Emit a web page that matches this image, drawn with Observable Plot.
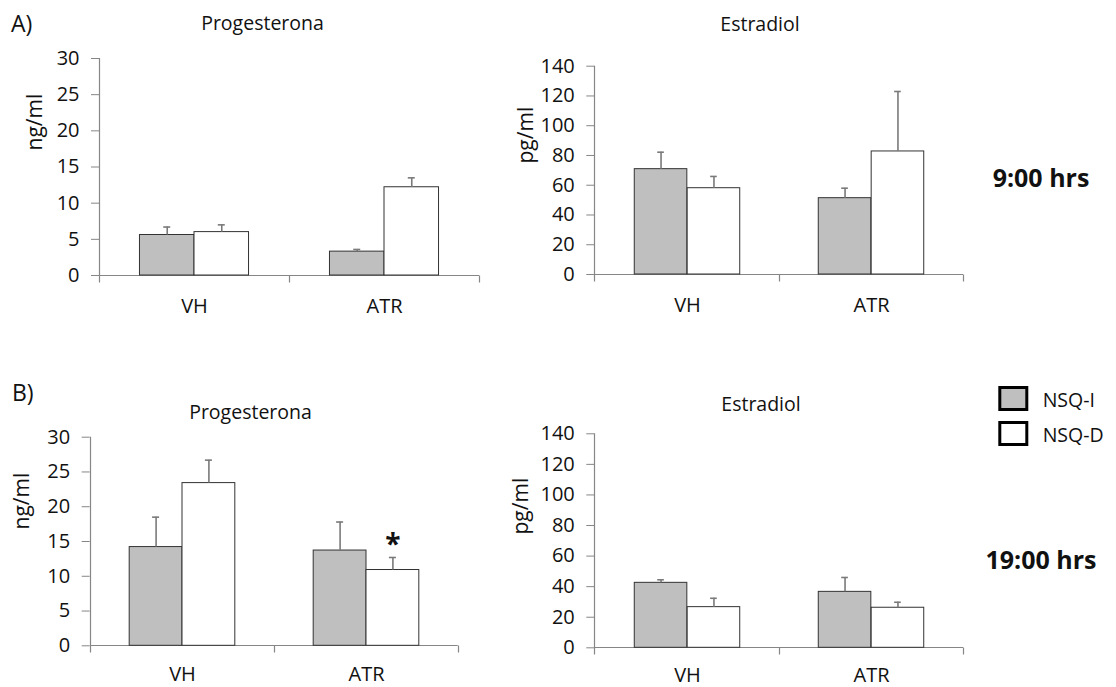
<!DOCTYPE html>
<html>
<head>
<meta charset="utf-8">
<script src="https://cdn.jsdelivr.net/npm/d3@7"></script>
<script src="https://cdn.jsdelivr.net/npm/@observablehq/plot@0.6"></script>
<style>
  body { margin: 0; background: #fff; }
  #fig { position: relative; width: 1116px; height: 687px; overflow: hidden; font-family: "Open Sans", sans-serif; }
  #fig > svg { position: absolute; }
</style>
</head>
<body>
<div id="fig"></div>
<script>
// Treatment groups (x axis) and the two series (legend)
const groups = ["VH", "ATR"];
const series = ["NSQ-I", "NSQ-D"];
const seriesFill = ["#bfbfbf", "#ffffff"];

// Tick values for the two hormone scales
const progTicks = [0, 5, 10, 15, 20, 25, 30];
const estTicks = [0, 20, 40, 60, 80, 100, 120, 140];

// Progesterona at 9:00 (ng/ml), values per group [VH, ATR]
const prog9MeanI = [5.6, 3.3];
const prog9MeanD = [6.0, 12.2];
const prog9ErrI = [1.1, 0.3];
const prog9ErrD = [1.0, 1.3];

// Estradiol at 9:00 (pg/ml)
const est9MeanI = [70.8, 51.3];
const est9MeanD = [58.0, 82.7];
const est9ErrI = [11.4, 6.7];
const est9ErrD = [7.9, 40.3];

// Progesterona at 19:00 (ng/ml)
const prog19MeanI = [14.2, 13.7];
const prog19MeanD = [23.4, 10.9];
const prog19ErrI = [4.3, 4.1];
const prog19ErrD = [3.3, 1.8];

// Estradiol at 19:00 (pg/ml)
const est19MeanI = [42.5, 36.6];
const est19MeanD = [26.6, 26.2];
const est19ErrI = [2.0, 9.4];
const est19ErrD = [5.8, 3.6];

// Significance marks: [group, series, symbol]
const prog19Signif = [["ATR", "NSQ-D", "*"]];

function toRows(meanI, meanD, errI, errD) {
  const rows = [];
  groups.forEach((g, i) => {
    rows.push({group: g, series: series[0], value: meanI[i], err: errI[i]});
    rows.push({group: g, series: series[1], value: meanD[i], err: errD[i]});
  });
  return rows;
}

const fig = document.getElementById("fig");
const axisGray = "#868686";
const textColor = "#111";

function panel({rows, ticks, unit, signif = [], left, top, width, height, margin, labelAt, xPad = 23}) {
  const [mt, mr, mb, ml] = margin;
  const bw = (width - ml - mr) / groups.length;  // band width of one group
  const barW = bw * 0.287;                       // width of one bar
  const cap = 3.5;                               // half width of the error cap
  const tickLen = 7;
  const off = s => s === series[0] ? -barW / 2 : barW / 2;
  const barInset = s => s === series[0]
    ? {insetLeft: bw / 2 - barW, insetRight: bw / 2}
    : {insetLeft: bw / 2, insetRight: bw / 2 - barW};

  // axis lines: vertical y line, baseline and group boundary ticks
  const axisLines = (index, scales, values, dim) => {
    const g = d3.create("svg:g").attr("stroke", axisGray).attr("fill", "none").attr("stroke-width", 1.2);
    const y0 = Math.round(scales.y(0)) + 0.5;
    const x0 = Math.round(dim.marginLeft) + 0.5;
    const x1 = dim.width - dim.marginRight;
    g.append("line").attr("x1", x0).attr("x2", x0).attr("y1", dim.marginTop).attr("y2", y0 + tickLen);
    g.append("line").attr("x1", x0).attr("x2", x1).attr("y1", y0).attr("y2", y0);
    for (let i = 1; i <= groups.length; i++) {
      const x = Math.round(dim.marginLeft + i * bw) + 0.5;
      g.append("line").attr("x1", x).attr("x2", x).attr("y1", y0).attr("y2", y0 + tickLen);
    }
    return g.node();
  };

  const marks = [axisLines];
  series.forEach((s, k) => {
    const d = rows.filter(r => r.series === s);
    marks.push(Plot.barY(d, {x: "group", y: "value", fill: seriesFill[k], stroke: "#333", strokeWidth: 1, ...barInset(s)}));
    marks.push(Plot.ruleX(d, {x: "group", y1: "value", y2: r => r.value + r.err, dx: off(s), stroke: "#7a7a7a", strokeWidth: 1.6}));
    marks.push(Plot.tickY(d, {x: "group", y: r => r.value + r.err, insetLeft: bw / 2 + off(s) - cap, insetRight: bw / 2 - off(s) - cap, stroke: "#7a7a7a", strokeWidth: 1.6}));
  });

  if (signif.length) {
    const sig = signif.map(([g, s, t]) => {
      const r = rows.find(r => r.group === g && r.series === s);
      return {group: g, series: s, text: t, y: r.value + r.err};
    });
    sig.forEach(d => {
      marks.push(Plot.text([d], {x: "group", y: "y", text: "text", dx: off(d.series), dy: -12, fontSize: 28, fontWeight: "bold", fill: textColor}));
    });
  }

  marks.push(Plot.axisY({ticks, tickSize: 8, tickPadding: 12, stroke: axisGray, fontSize: 20, label: null}));
  marks.push(Plot.axisX({tickSize: 0, tickPadding: xPad, fontSize: 20, label: null}));

  // rotated unit label beside the y axis
  const frameMid = top + (mt + height - mb) / 2;
  marks.push(Plot.text([unit], {frameAnchor: "left", text: d => d, rotate: -90, dx: labelAt[0] - left - ml, dy: labelAt[1] - frameMid, fontSize: 21, fill: textColor}));

  const chart = Plot.plot({
    width, height,
    marginTop: mt, marginRight: mr, marginBottom: mb, marginLeft: ml,
    style: {fontFamily: "Open Sans, sans-serif", fontSize: "20px", color: textColor, background: "transparent", overflow: "visible"},
    x: {domain: groups, padding: 0},
    y: {domain: [ticks[0], ticks[ticks.length - 1]]},
    marks
  });
  chart.style.left = left + "px";
  chart.style.top = top + "px";
  fig.appendChild(chart);
}

panel({rows: toRows(prog9MeanI, prog9MeanD, prog9ErrI, prog9ErrD), ticks: progTicks, unit: "ng/ml",
  left: 0, top: 40, width: 500, height: 290, margin: [18, 21, 55, 99], labelAt: [35, 150]});
panel({rows: toRows(est9MeanI, est9MeanD, est9ErrI, est9ErrD), ticks: estTicks, unit: "pg/ml",
  left: 500, top: 40, width: 500, height: 290, margin: [25.7, 37, 56, 94.3], labelAt: [526, 163]});
panel({rows: toRows(prog19MeanI, prog19MeanD, prog19ErrI, prog19ErrD), ticks: progTicks, unit: "ng/ml", signif: prog19Signif,
  left: 0, top: 400, width: 500, height: 287, margin: [36.7, 42.3, 41.7, 89.7], labelAt: [21.5, 529], xPad: 21});
panel({rows: toRows(est19MeanI, est19MeanD, est19ErrI, est19ErrD), ticks: estTicks, unit: "pg/ml",
  left: 500, top: 400, width: 500, height: 287, margin: [33.3, 37, 39.7, 94.3], labelAt: [521, 534], xPad: 20});

// Titles, panel letters, time labels and legend
const over = d3.select(fig).append("svg")
  .attr("width", 1116).attr("height", 687)
  .style("left", "0px").style("top", "0px")
  .style("font-family", "Open Sans, sans-serif").attr("fill", textColor);

const labels = [
  {text: "A)", x: 11, y: 31.7, size: 23, anchor: "start"},
  {text: "B)", x: 12, y: 400.7, size: 23, anchor: "start"},
  {text: "Progesterona", x: 262.5, y: 30, size: 19.5, anchor: "middle"},
  {text: "Estradiol", x: 760, y: 30.7, size: 19.5, anchor: "middle"},
  {text: "Progesterona", x: 250.5, y: 419.3, size: 19.5, anchor: "middle"},
  {text: "Estradiol", x: 761, y: 410.7, size: 19.5, anchor: "middle"},
  {text: "9:00 hrs", x: 1041, y: 186.7, size: 25, anchor: "middle", weight: "bold"},
  {text: "19:00 hrs", x: 1041, y: 569.3, size: 25, anchor: "middle", weight: "bold"}
];
labels.forEach(l => {
  over.append("text").attr("x", l.x).attr("y", l.y).attr("font-size", l.size)
    .attr("text-anchor", l.anchor).attr("font-weight", l.weight || "normal").text(l.text);
});

series.forEach((s, k) => {
  const y = 387.5 + k * 35;
  over.append("rect").attr("x", 999.8).attr("y", y).attr("width", 27).attr("height", 22)
    .attr("fill", seriesFill[k]).attr("stroke", "#000").attr("stroke-width", 3);
  over.append("text").attr("x", 1042.7).attr("y", y + 19.2).attr("font-size", 19.5).text(s);
});
</script>
</body>
</html>
